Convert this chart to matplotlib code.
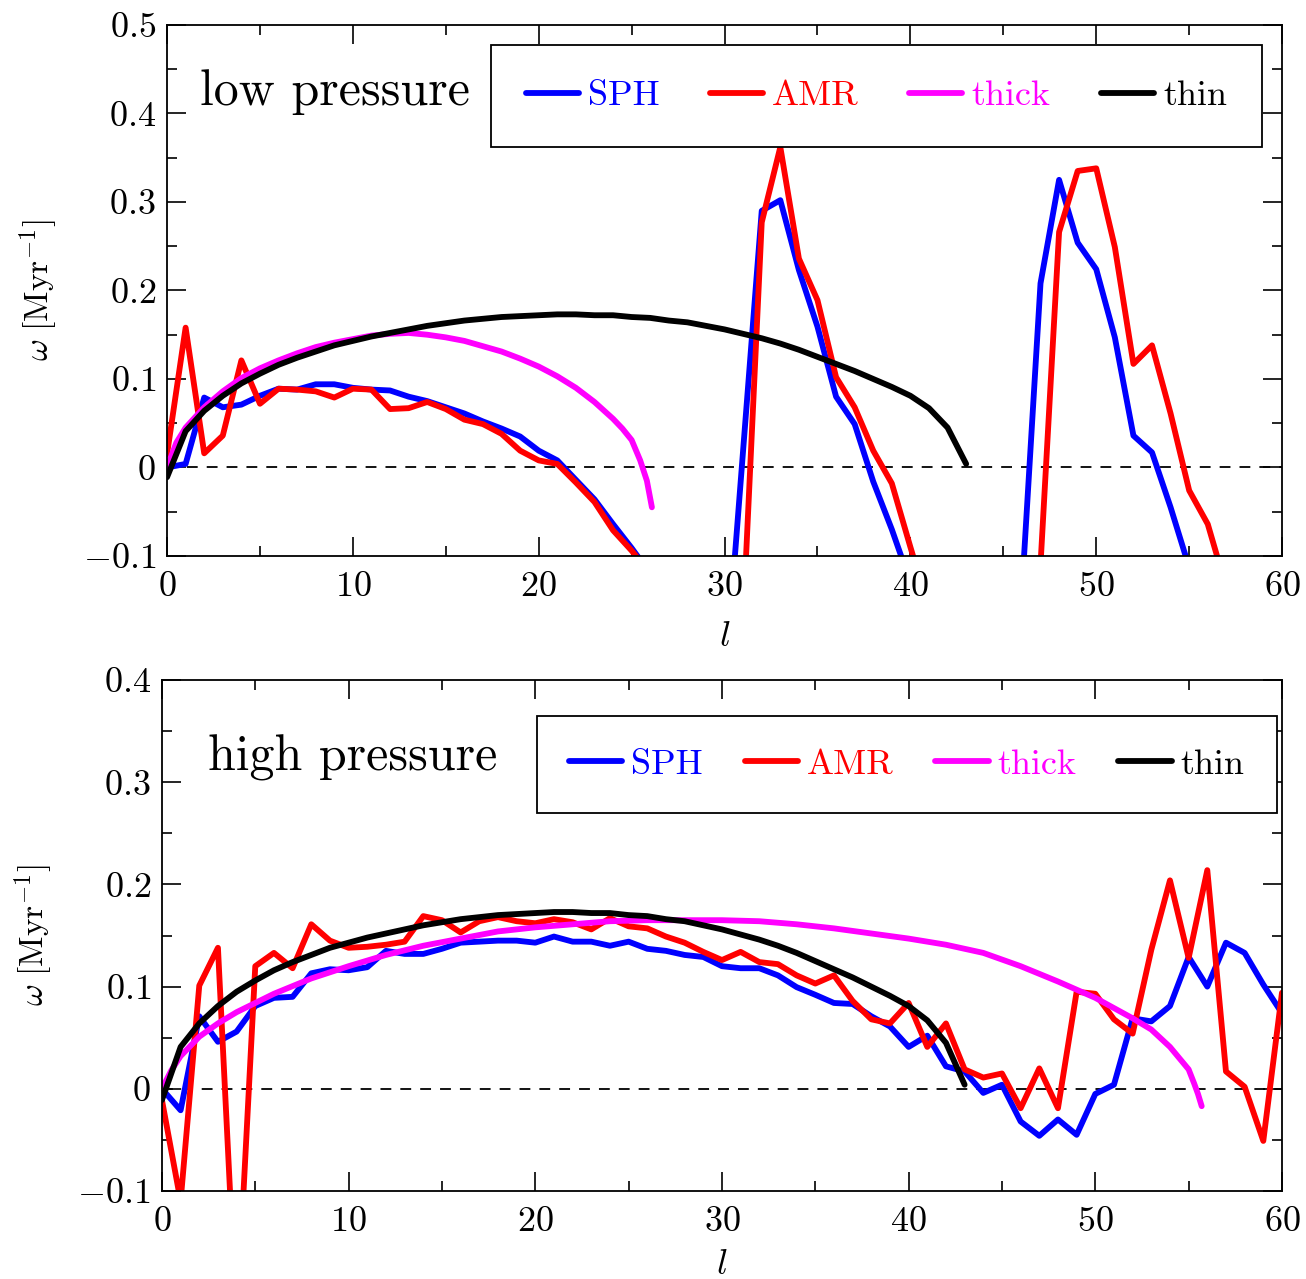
import numpy as np
import matplotlib
matplotlib.use("Agg")
import matplotlib.pyplot as plt
from matplotlib.ticker import MultipleLocator, FuncFormatter

plt.rcParams['font.family'] = 'serif'
plt.rcParams['font.serif'] = ['cmr10']
plt.rcParams['mathtext.fontset'] = 'cm'
plt.rcParams['axes.formatter.use_mathtext'] = True

# ---- data ----
l_int = np.arange(61)

sph_low = [0.000, 0.004, 0.079, 0.068, 0.071, 0.081, 0.089, 0.088, 0.094, 0.094,
           0.090, 0.088, 0.087, 0.080, 0.075, 0.068, 0.061, 0.052, 0.044, 0.035,
           0.019, 0.008, -0.014, -0.036, -0.064, -0.091, -0.12, -0.16, -0.22, -0.28,
           -0.25, 0.02, 0.290, 0.302, 0.223, 0.159, 0.080, 0.049, -0.016, -0.070,
           -0.13, -0.20, -0.26, -0.30, -0.32, -0.35, -0.14, 0.208, 0.325, 0.254,
           0.224, 0.147, 0.036, 0.017, -0.045, -0.113, -0.18, -0.24, -0.30, -0.33,
           -0.36]
amr_low = [0.015, 0.158, 0.016, 0.036, 0.121, 0.072, 0.089, 0.088, 0.086, 0.079,
           0.089, 0.088, 0.066, 0.067, 0.074, 0.066, 0.054, 0.049, 0.038, 0.019,
           0.008, 0.004, -0.017, -0.039, -0.071, -0.094, -0.12, -0.17, -0.23, -0.28,
           -0.33, -0.17, 0.277, 0.362, 0.236, 0.189, 0.102, 0.068, 0.019, -0.018,
           -0.09, -0.16, -0.22, -0.27, -0.30, -0.34, -0.38, -0.11, 0.266, 0.335,
           0.338, 0.249, 0.117, 0.138, 0.061, -0.026, -0.064, -0.136, -0.20, -0.25,
           -0.30]

sph_high = [0.000, -0.021, 0.071, 0.046, 0.056, 0.081, 0.089, 0.090, 0.113, 0.117,
            0.116, 0.119, 0.135, 0.132, 0.132, 0.137, 0.143, 0.144, 0.145, 0.145,
            0.143, 0.149, 0.144, 0.144, 0.140, 0.144, 0.137, 0.135, 0.131, 0.129,
            0.120, 0.118, 0.118, 0.111, 0.0995, 0.092, 0.084, 0.083, 0.071, 0.061,
            0.041, 0.052, 0.022, 0.017, -0.004, 0.004, -0.032, -0.046, -0.030, -0.045,
            -0.005, 0.004, 0.069, 0.066, 0.081, 0.129, 0.100, 0.143, 0.133, 0.102,
            0.074]
amr_high = [-0.011, -0.11, 0.101, 0.138, -0.23, 0.120, 0.133, 0.118, 0.161, 0.145,
            0.138, 0.139, 0.141, 0.144, 0.169, 0.165, 0.153, 0.164, 0.168, 0.164,
            0.162, 0.166, 0.163, 0.156, 0.167, 0.159, 0.157, 0.149, 0.143, 0.134,
            0.126, 0.134, 0.124, 0.122, 0.111, 0.103, 0.111, 0.086, 0.068, 0.064,
            0.084, 0.041, 0.064, 0.019, 0.011, 0.015, -0.019, 0.020, -0.019, 0.095,
            0.093, 0.068, 0.054, 0.136, 0.204, 0.128, 0.214, 0.017, 0.002, -0.051,
            0.094]

# thin-disc curve (same in both panels)
l_thin = np.arange(44)
thin = [-0.011, 0.041, 0.064, 0.081, 0.095, 0.106, 0.116, 0.124, 0.131, 0.138,
        0.143, 0.148, 0.152, 0.156, 0.160, 0.163, 0.166, 0.168, 0.170, 0.171,
        0.172, 0.173, 0.173, 0.172, 0.172, 0.170, 0.169, 0.166, 0.164, 0.160,
        0.156, 0.151, 0.146, 0.140, 0.133, 0.125, 0.117, 0.109, 0.100, 0.091,
        0.081, 0.067, 0.045, 0.004]

# thick-disc curves
l_thick_low = [0, 0.5, 1, 2, 3, 4, 5, 6, 7, 8, 9, 10, 11, 12, 13, 14, 15, 16, 17,
               18, 19, 20, 21, 22, 23, 24, 24.5, 25, 25.46, 25.82, 26.09]
thick_low = [0.0, 0.028, 0.045, 0.068, 0.086, 0.101, 0.112, 0.121, 0.129, 0.136,
             0.141, 0.145, 0.149, 0.151, 0.152, 0.150, 0.147, 0.143, 0.137, 0.131,
             0.123, 0.114, 0.103, 0.090, 0.074, 0.055, 0.044, 0.031, 0.008, -0.015,
             -0.045]
l_thick_high = [0, 0.5, 1, 2, 3, 4, 5, 6, 8, 10, 12, 14, 16, 18, 20, 22, 24, 26, 28,
                30, 32, 34, 36, 38, 40, 42, 44, 46, 48, 50, 52, 53, 54, 55, 55.3,
                55.5, 55.7]
thick_high = [0.0, 0.018, 0.032, 0.051, 0.064, 0.075, 0.084, 0.093, 0.108, 0.120,
              0.131, 0.140, 0.147, 0.154, 0.158, 0.161, 0.164, 0.165, 0.165, 0.165,
              0.164, 0.161, 0.157, 0.152, 0.147, 0.141, 0.133, 0.120, 0.105, 0.089,
              0.069, 0.058, 0.041, 0.019, 0.005, -0.005, -0.017]

labels = ["SPH", "AMR", "thick", "thin"]
colors = ["#0000ff", "#ff0000", "#ff00ff", "#000000"]


def fmt(v, pos):
    v = round(v, 3)
    if v == 0:
        return "$0$"
    return "$%g$" % v


fig = plt.figure(figsize=(13.06, 12.79), dpi=100)
ax1 = fig.add_axes([0.1279, 0.5653, 0.8538, 0.4152])
ax2 = fig.add_axes([0.1240, 0.0688, 0.8576, 0.3995])

panels = [
    (ax1, sph_low, amr_low, l_thick_low, thick_low, (-0.1, 0.5), "low pressure",
     (0.03, 0.874), (0.982, 0.962), 0.97, 1.40, 13),
    (ax2, sph_high, amr_high, l_thick_high, thick_high, (-0.1, 0.4), "high pressure",
     (0.041, 0.847), (0.9955, 0.9295), 0.90, 1.16, 8),
]

lw = 4.2
for ax, sph, amr, lth, thk, ylim, name, tpos, lpos, bp, cs, lpad in panels:
    ax.axhline(0, color="black", lw=1.3, ls=(0, (6, 5)))
    ax.plot(l_int, sph, color=colors[0], lw=lw, label=labels[0], solid_capstyle="round")
    ax.plot(l_int, amr, color=colors[1], lw=lw, label=labels[1], solid_capstyle="round")
    ax.plot(lth, thk, color=colors[2], lw=lw, label=labels[2], solid_capstyle="round")
    ax.plot(l_thin, thin, color=colors[3], lw=lw, label=labels[3], solid_capstyle="round")

    ax.set_xlim(0, 60)
    ax.set_ylim(*ylim)
    ax.xaxis.set_major_locator(MultipleLocator(10))
    ax.xaxis.set_minor_locator(MultipleLocator(5))
    ax.yaxis.set_major_locator(MultipleLocator(0.1))
    ax.yaxis.set_minor_locator(MultipleLocator(0.05))
    ax.xaxis.set_major_formatter(FuncFormatter(fmt))
    ax.yaxis.set_major_formatter(FuncFormatter(fmt))
    ax.tick_params(which="both", direction="in", top=True, right=True, labelsize=26)
    ax.tick_params(which="major", length=14, width=1.2)
    ax.tick_params(which="minor", length=7, width=1.2)
    ax.tick_params(axis="x", which="major", pad=11)
    ax.tick_params(axis="y", which="major", pad=8)
    for s in ax.spines.values():
        s.set_linewidth(1.3)

    ax.set_xlabel(r"$l$", fontsize=26, labelpad=lpad)
    ax.set_ylabel(r"$\omega\ [\mathrm{Myr}^{-1}]$", fontsize=24, labelpad=16)
    ax.text(tpos[0], tpos[1], name, transform=ax.transAxes, fontsize=36,
            ha="left", va="center")

    leg = ax.legend(loc="upper right", bbox_to_anchor=lpos, ncol=4, fontsize=26,
                    frameon=True, fancybox=False, edgecolor="black", framealpha=1,
                    borderaxespad=0, borderpad=bp, handlelength=1.47,
                    handletextpad=0.25, columnspacing=cs)
    leg.get_frame().set_linewidth(1.3)
    for txt, c in zip(leg.get_texts(), colors):
        txt.set_color(c)

fig.savefig("out.png", dpi=100)
plt.close(fig)
